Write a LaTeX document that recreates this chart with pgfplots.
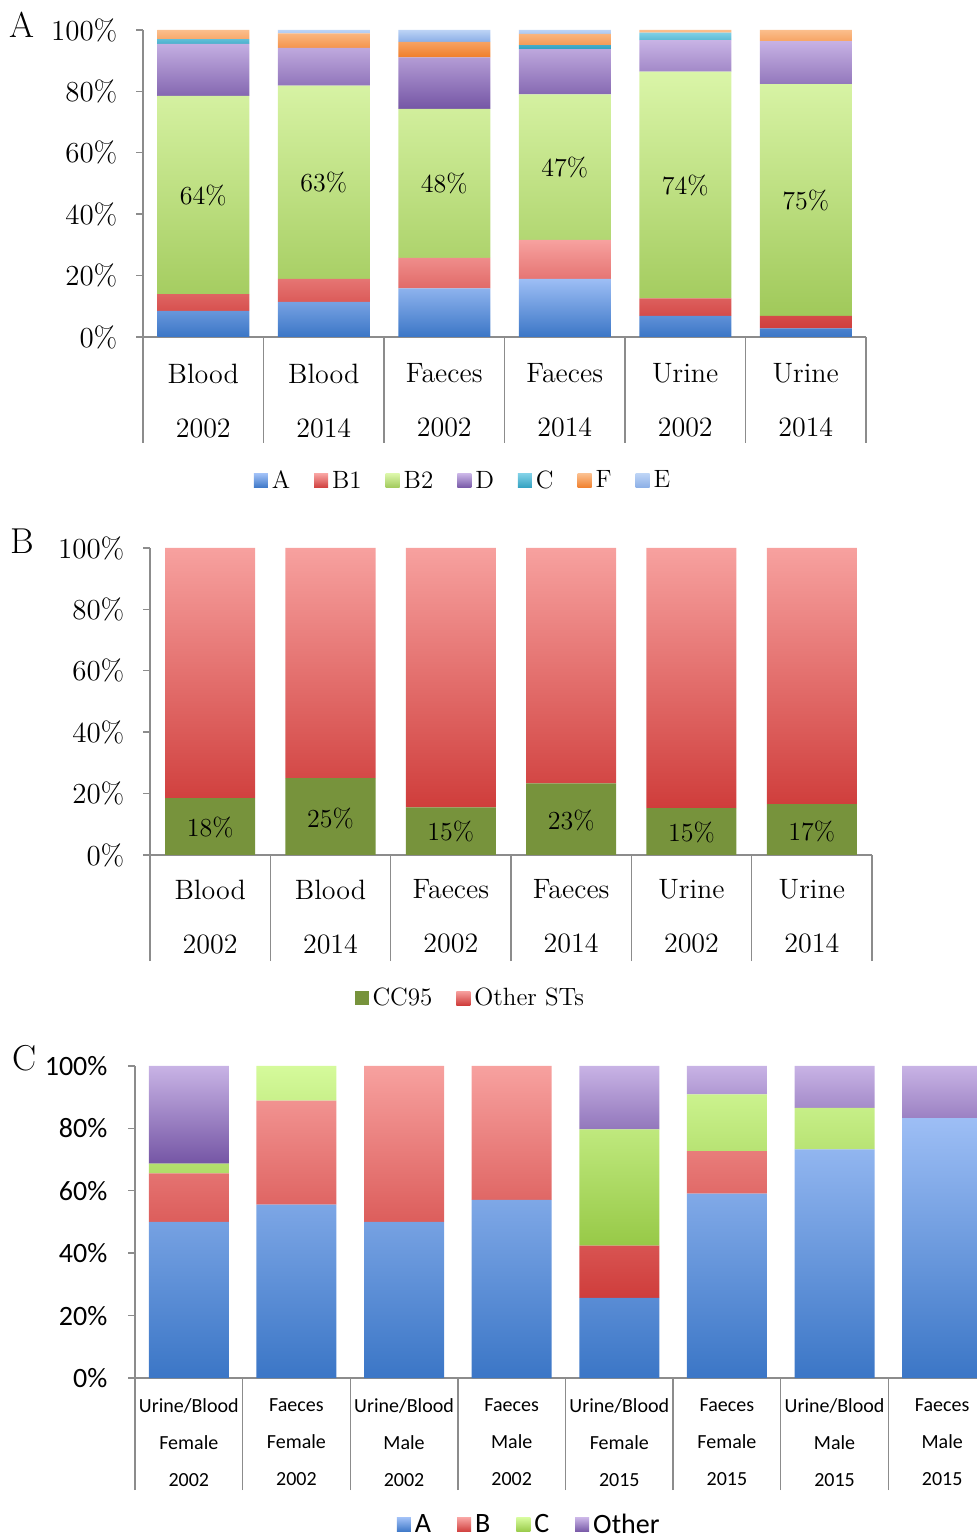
\documentclass[border=0pt]{standalone}
\usepackage{pgfplots}
\pgfplotsset{compat=1.18}
\usepackage{fontspec}
\newfontfamily\carlito{Carlito}
\definecolor{axisgray}{HTML}{8C8C8C}
% colours (top light, bottom dark)
\definecolor{Atop}{HTML}{9DBEF5}\definecolor{Abot}{HTML}{3B76C6}
\definecolor{Rtop}{HTML}{F7A19F}\definecolor{Rbot}{HTML}{CF3D3B}
\definecolor{Gtop}{HTML}{DAF5A8}\definecolor{Gbot}{HTML}{A0C95A}
\definecolor{Ptop}{HTML}{C8B3E5}\definecolor{Pbot}{HTML}{7556A5}
\definecolor{Ctop}{HTML}{7FD0E6}\definecolor{Cbot}{HTML}{31A0C0}
\definecolor{Ftop}{HTML}{FBBE8C}\definecolor{Fbot}{HTML}{F07E2A}
\definecolor{Etop}{HTML}{BCD3F5}\definecolor{Ebot}{HTML}{8AAEE6}
\definecolor{cc95}{HTML}{77933C}
\definecolor{Ogtop}{HTML}{D5FA9B}\definecolor{Ogbot}{HTML}{97C947}

\pgfplotsset{
  excel/.style={
    scale only axis, ybar stacked, enlargelimits=false,
    ymin=0, ymax=100, ytick={0,20,40,60,80,100},
    yticklabels={0\%,20\%,40\%,60\%,80\%,100\%},
    axis lines*=left,
    axis line style={draw=axisgray, line width=0.7pt},
    tick align=outside,
    ytick style={draw=axisgray, line width=0.7pt, /pgfplots/major tick length=3.5pt},
    xtick style={draw=axisgray, line width=0.7pt, /pgfplots/major tick length=53pt},
    x tick label as interval,
    legend columns=-1,
    legend style={draw=none, fill=none, /tikz/every even column/.append style={column sep=10pt}},
    legend image code/.code={\path[##1,draw=none] (0pt,-3.5pt) rectangle (7pt,3.5pt);},
  },
  shA/.style={top color=Atop, bottom color=Abot, draw=none},
  shR/.style={top color=Rtop, bottom color=Rbot, draw=none},
  shG/.style={top color=Gtop, bottom color=Gbot, draw=none},
  shP/.style={top color=Ptop, bottom color=Pbot, draw=none},
  shC/.style={top color=Ctop, bottom color=Cbot, draw=none},
  shF/.style={top color=Ftop, bottom color=Fbot, draw=none},
  shE/.style={top color=Etop, bottom color=Ebot, draw=none},
  shOG/.style={top color=Ogtop, bottom color=Ogbot, draw=none},
}
\tikzset{pct/.style={font=\fontsize{13}{13}\selectfont}}

\begin{document}
\begin{tikzpicture}
\useasboundingbox (0,0) rectangle (488.5pt,770pt);
\clip (0,0) rectangle (488.5pt,770pt);

% ---------------- Panel A ----------------
\node[font=\fontsize{18}{18}\selectfont] at (11pt,757.5pt) {A};
\begin{axis}[excel,
  at={(71.5pt,601.5pt)}, anchor=south west,
  width=361.5pt, height=153.5pt,
  xmin=-0.5, xmax=5.5, xtick={-0.5,0.5,1.5,2.5,3.5,4.5,5.5},
  xticklabels={{Blood\\2002},{Blood\\2014},{Faeces\\2002},{Faeces\\2014},{Urine\\2002},{Urine\\2014}},
  xticklabel style={align=center, font=\fontsize{14}{27}\selectfont, yshift=-5.5pt},
  yticklabel style={font=\fontsize{14.5}{14.5}\selectfont, xshift=-5pt},
  bar width=46pt,
  legend style={at={(0.444,-0.469)}, anchor=center, font=\fontsize{12.5}{12.5}\selectfont},
]
\addplot[shA] coordinates {(0,8.5) (1,11.4) (2,15.8) (3,18.9) (4,6.9) (5,2.8)};
\addplot[shR] coordinates {(0,5.5) (1,7.5) (2,10.0) (3,12.7) (4,5.7) (5,4.1)};
\addplot[shG] coordinates {(0,64.5) (1,63.0) (2,48.5) (3,47.4) (4,73.8) (5,75.5)};
\addplot[shP] coordinates {(0,17.0) (1,12.3) (2,16.8) (3,14.8) (4,10.3) (5,14.0)};
\addplot[shC] coordinates {(0,1.5) (1,0) (2,0) (3,1.3) (4,2.4) (5,0)};
\addplot[shF] coordinates {(0,3.0) (1,4.7) (2,5.0) (3,3.6) (4,0.9) (5,3.6)};
\addplot[shE] coordinates {(0,0) (1,1.1) (2,3.9) (3,1.3) (4,0) (5,0)};
\legend{A,B1,B2,D,C,F,E}
\coordinate (a0) at (axis cs:0,46.25);
\coordinate (a1) at (axis cs:1,50.4);
\coordinate (a2) at (axis cs:2,50.0);
\coordinate (a3) at (axis cs:3,55.3);
\coordinate (a4) at (axis cs:4,49.5);
\coordinate (a5) at (axis cs:5,44.6);
\end{axis}
\node[pct] at (a0) {64\%};
\node[pct] at (a1) {63\%};
\node[pct] at (a2) {48\%};
\node[pct] at (a3) {47\%};
\node[pct] at (a4) {74\%};
\node[pct] at (a5) {75\%};

% ---------------- Panel B ----------------
\node[font=\fontsize{18}{18}\selectfont] at (11pt,499.5pt) {B};
\begin{axis}[excel,
  at={(75pt,342.5pt)}, anchor=south west,
  width=361pt, height=153.5pt,
  xmin=-0.5, xmax=5.5, xtick={-0.5,0.5,1.5,2.5,3.5,4.5,5.5},
  xticklabels={{Blood\\2002},{Blood\\2014},{Faeces\\2002},{Faeces\\2014},{Urine\\2002},{Urine\\2014}},
  xticklabel style={align=center, font=\fontsize{14}{27}\selectfont, yshift=-4.5pt},
  yticklabel style={font=\fontsize{14.5}{14.5}\selectfont, xshift=-5pt},
  bar width=45pt,
  legend style={at={(0.445,-0.466)}, anchor=center, font=\fontsize{12.5}{12.5}\selectfont},
]
\addplot[fill=cc95, draw=none] coordinates {(0,18.5) (1,25.0) (2,15.5) (3,23.3) (4,15.3) (5,16.6)};
\addplot[shR] coordinates {(0,81.5) (1,75.0) (2,84.5) (3,76.7) (4,84.7) (5,83.4)};
\legend{CC95,Other STs}
\coordinate (b0) at (axis cs:0,8.8);
\coordinate (b1) at (axis cs:1,12.0);
\coordinate (b2) at (axis cs:2,7.5);
\coordinate (b3) at (axis cs:3,11.4);
\coordinate (b4) at (axis cs:4,7.2);
\coordinate (b5) at (axis cs:5,7.8);
\end{axis}
\node[pct] at (b0) {18\%};
\node[pct] at (b1) {25\%};
\node[pct] at (b2) {15\%};
\node[pct] at (b3) {23\%};
\node[pct] at (b4) {15\%};
\node[pct] at (b5) {17\%};

% ---------------- Panel C ----------------
\node[font=\fontsize{18}{18}\selectfont] at (12.5pt,241pt) {C};
\begin{axis}[excel,
  at={(67.5pt,81pt)}, anchor=south west,
  width=430.5pt, height=156pt,
  xmin=-0.5, xmax=7.5, xtick={-0.5,0.5,1.5,2.5,3.5,4.5,5.5,6.5,7.5},
  xtick style={draw=axisgray, line width=0.7pt, /pgfplots/major tick length=56pt},
  xticklabels={{Urine/Blood\\Female\\2002},{Faeces\\Female\\2002},{Urine/Blood\\Male\\2002},{Faeces\\Male\\2002},{Urine/Blood\\Female\\2015},{Faeces\\Female\\2015},{Urine/Blood\\Male\\2015},{Faeces\\Male\\2015}},
  xticklabel style={align=center, font=\carlito\fontsize{10}{18.5}\selectfont, yshift=-2.5pt},
  yticklabel style={font=\carlito\fontsize{14}{14}\selectfont, xshift=-6pt},
  bar width=40pt,
  legend style={at={(0.459,-0.471)}, anchor=center, font=\carlito\fontsize{14}{14}\selectfont,
    /tikz/every even column/.append style={column sep=11pt}},
]
\addplot[shA] coordinates {(0,50.0) (1,55.6) (2,50.0) (3,57.1) (4,25.7) (5,59.1) (6,73.3) (7,83.3)};
\addplot[shR] coordinates {(0,15.6) (1,33.3) (2,50.0) (3,42.9) (4,16.7) (5,13.6) (6,0) (7,0)};
\addplot[shOG] coordinates {(0,3.1) (1,11.1) (2,0) (3,0) (4,37.3) (5,18.2) (6,13.3) (7,0)};
\addplot[shP] coordinates {(0,31.3) (1,0) (2,0) (3,0) (4,20.3) (5,9.1) (6,13.4) (7,16.7)};
\legend{A,B,C,Other}
\end{axis}
\end{tikzpicture}
\end{document}
